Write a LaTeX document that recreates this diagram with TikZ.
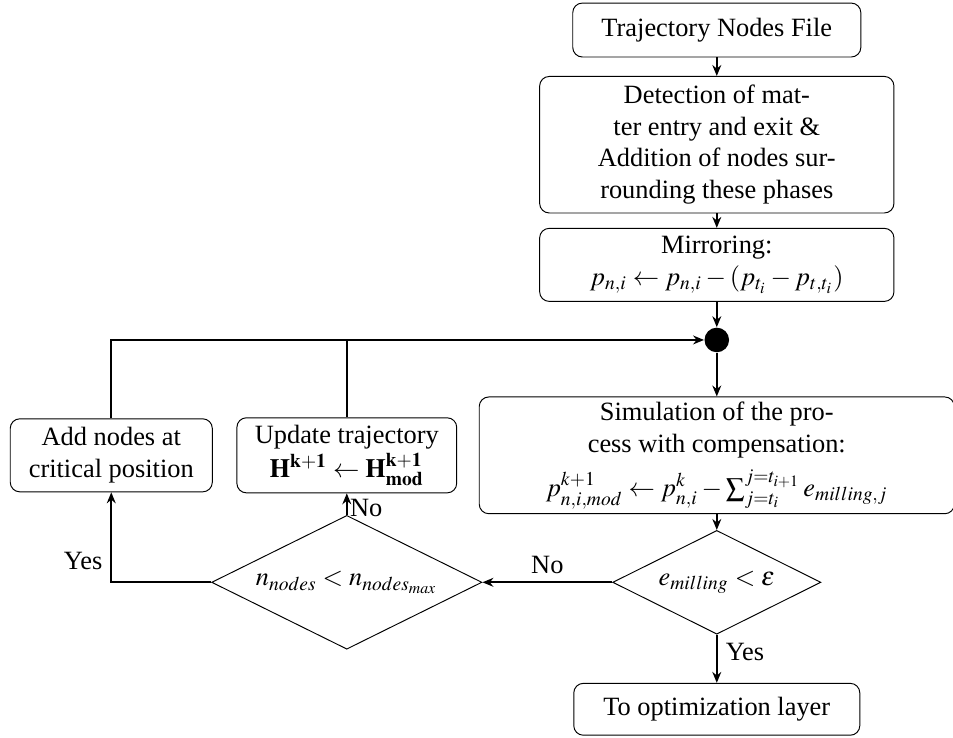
\documentclass[tikz,border=0pt]{standalone}
\usepackage{mathptmx}
\usepackage{fontspec}
\setmainfont{Liberation Serif}
\usetikzlibrary{arrows.meta,shapes.geometric}

\begin{document}
\begin{tikzpicture}[
    x=1cm, y=1cm,
    font=\fontsize{11}{13.2}\selectfont,
    box/.style={draw, rounded corners=4pt, align=center, inner sep=2pt},
    test/.style={draw, diamond, aspect=2, inner sep=0pt, align=center},
    flow/.style={-{Stealth[length=1.6mm,width=1.3mm]}, thick},
    merge/.style={thick},
]
\useasboundingbox (0,0) rectangle (13.96,-10.80);

% ---- main column ------------------------------------------------------------
\node[box, minimum width=4.22cm, minimum height=0.79cm] (traj) at (10.50,-0.44) {Trajectory Nodes File};
\node[box, minimum width=5.19cm, minimum height=2.00cm] (det) at (10.50,-2.12)
    {Detection of mat-\\ter entry and exit \&\\Addition of nodes sur-\\rounding these phases};
\node[box, minimum width=5.19cm, minimum height=1.07cm] (mir) at (10.50,-3.88)
    {Mirroring:\\$p_{n,i} \leftarrow p_{n,i} - (p_{t_i} - p_{t,t_i})$};
\node[circle, fill, inner sep=0pt, minimum size=0.36cm] (hub) at (10.50,-4.98) {};
\node[box, minimum width=6.96cm, minimum height=1.63cm] (sim) at (10.50,-6.67)
    {Simulation of the pro-\\cess with compensation:\\[4pt]
     $p^{k+1}_{n,i,mod} \leftarrow p^{k}_{n,i} - \sum_{j=t_i}^{j=t_{i+1}} e_{milling,j}$};
\node[test, minimum width=3.05cm, minimum height=1.52cm] (err) at (10.50,-8.53) {$e_{milling} < \varepsilon$};
\node[box, minimum width=4.19cm, minimum height=0.76cm] (opt) at (10.50,-10.39) {To optimization layer};

% ---- correction loop ------------------------------------------------------------
\node[test, minimum width=3.96cm, minimum height=1.96cm] (cnt) at (5.08,-8.53) {$n_{nodes} < n_{nodes_{max}}$};
\node[box, minimum width=3.22cm, minimum height=1.10cm] (upd) at (5.08,-6.67)
    {Update trajectory\\[1pt]$\mathbf{H}^{\mathbf{k+1}} \leftarrow \mathbf{H}^{\mathbf{k+1}}_{\mathbf{mod}}$};
\node[box, minimum width=2.96cm, minimum height=1.07cm] (add) at (1.63,-6.67)
    {Add nodes at\\critical position};

% ---- connectors ----------------------------------------------------------------
\draw[flow] (traj) -- (det);
\draw[flow] (det) -- (mir);
\draw[flow] (mir) -- (hub);
\draw[flow] (hub) -- (sim);
\draw[flow] (sim) -- (err);
\draw[flow] (err) -- node[pos=0.35, right] {Yes} (opt);
\draw[flow] (err) -- node[midway, above] {No} (cnt);
\draw[flow] (cnt.west) -| node[pos=0.62, left] {Yes} (add.south);
\draw[flow] (cnt) -- node[pos=0.3, right, inner sep=1pt] {No} (upd);
\draw[flow] (add.north) |- (hub.west);
\draw[merge] (upd.north) -- (upd.north |- hub.west);

\end{tikzpicture}
\end{document}
